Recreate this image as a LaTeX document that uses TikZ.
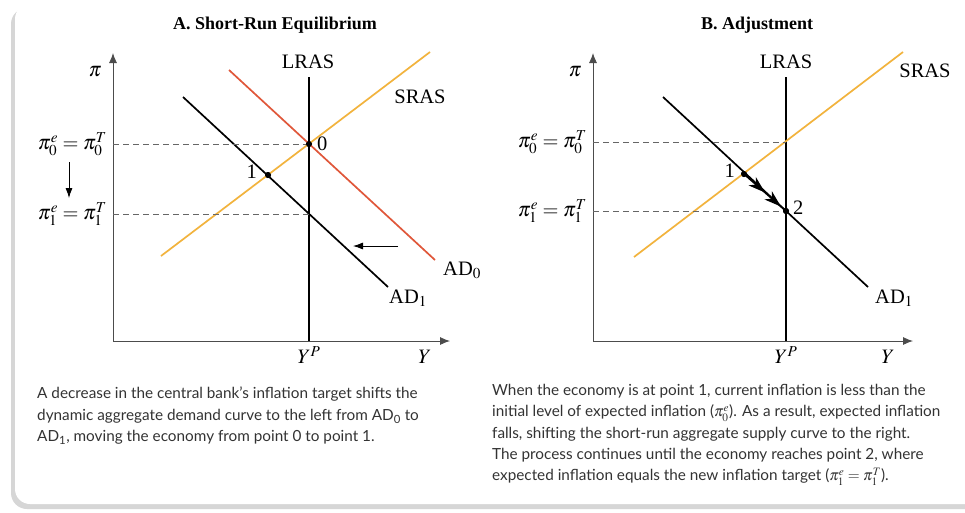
\documentclass[tikz,border=0pt]{standalone}
\usepackage{mathptmx}
\usepackage{fontspec}
\setmainfont{Liberation Serif}
\newfontfamily\capfont{Lato}
\usetikzlibrary{positioning, arrows.meta, decorations.markings}

\definecolor{srascol}{HTML}{F2B33D}
\definecolor{adzerocol}{HTML}{E0573A}
\definecolor{captext}{HTML}{333333}

\tikzset{
  axis/.style={draw=black!70, line width=0.9pt, -{Latex[length=10pt,width=8pt]}},
  lras/.style={line width=2.6pt},
  curve/.style={line width=1.7pt},
  guide/.style={draw=black!60, dash pattern=on 6pt off 4pt, line width=0.8pt},
  dot/.style={circle, fill=black, inner sep=0pt, minimum size=6pt},
  lbl/.style={font=\fontsize{20.5}{20.5}\selectfont, inner sep=1pt},
  paneltitle/.style={font=\bfseries\fontsize{18}{18}\selectfont},
  caption/.style={font=\capfont\fontsize{15.3}{21.3}\selectfont, text=captext,
    align=left, anchor=north west, inner sep=0pt},
  moveon/.style={decoration={markings,
    mark=at position 0.5 with {\arrow{Stealth[length=17pt,width=11pt,inset=5pt]}},
    mark=at position 0.88 with {\arrow{Stealth[length=17pt,width=11pt,inset=5pt]}}},
    postaction={decorate}}
}

\begin{document}
\begin{tikzpicture}[x=1pt,y=-1pt,>={Latex[length=10pt,width=7pt]}]
  \useasboundingbox (0,0) rectangle (965,512);
  \clip (0,0) rectangle (965,512);
  \fill[white] (0,0) rectangle (965,512);
  % card with shadow
  \fill[black!16, rounded corners=16pt] (11,8) rectangle (990,509);
  \fill[white, rounded corners=15pt] (15,4) rectangle (990,504);

  % ---------- A. Short-Run Equilibrium ----------
  \node[paneltitle] (titleA) at (275,25) {A. Short-Run Equilibrium};
  \coordinate (oA) at (113,341);
  \coordinate (yA) at (113,53);
  \coordinate (xA) at (450,341);
  \draw[axis] (oA) -- (yA);
  \draw[axis] (oA) -- (xA);
  \node[lbl] (piA) at (95,72) {$\pi$};
  \node[lbl] (YA) at (425,357) {$Y$};
  \node[lbl] (YPA) at (309,355) {$Y^P$};

  \node[dot] (zeroA) at (309,144) {};
  \node[dot] (oneA) at (268,175) {};
  \coordinate (y1A) at (309,214);

  \coordinate (lrasTopA) at (309,77);
  \draw[lras] (lrasTopA) -- (oA -| lrasTopA);
  \node[lbl] (lrasA) at (308,62) {LRAS};

  \coordinate (srasLoA) at (161,256);
  \coordinate (srasHiA) at (430,52);
  \draw[curve, srascol] (srasLoA) -- (srasHiA);
  \node[lbl] (srasA) at (420,97) {SRAS};

  \coordinate (adzTopA) at (229,70);
  \coordinate (adzBotA) at (435,260);
  \draw[curve, adzerocol] (adzTopA) -- (adzBotA);
  \node[lbl, anchor=west] (adzA) at (442,270) {AD$_0$};

  \coordinate (adoTopA) at (183,97);
  \coordinate (adoBotA) at (388,287);
  \draw[curve] (adoTopA) -- (adoBotA);
  \node[lbl, anchor=west] (adoA) at (388,298) {AD$_1$};

  \draw[guide] (oA |- zeroA) -- (zeroA);
  \draw[guide] (oA |- y1A) -- (y1A);
  \node[dot] at (zeroA) {};
  \node[dot] at (oneA) {};
  \node[lbl, anchor=west] (zeroLblA) at (316,144) {0};
  \node[lbl, anchor=east] (oneLblA) at (258,172) {1};

  \node[lbl, anchor=east] (eq0A) at (108,144) {$\pi^e_0=\pi^T_0$};
  \node[lbl, anchor=east] (eq1A) at (108,214) {$\pi^e_1=\pi^T_1$};
  \draw[->, line width=0.8pt] (eq0A.south -| 69,0) ++(0,5) -- (69,198);
  \coordinate (shiftFrom) at (398,246);
  \coordinate (shiftTo) at (353,246);
  \draw[->, line width=0.8pt] (shiftFrom) -- (shiftTo);

  \node[caption] (capA) at (37,387) {A decrease in the central bank’s inflation target shifts the\\
    dynamic aggregate demand curve to the left from AD\textsubscript{0} to\\
    AD\textsubscript{1}, moving the economy from point 0 to point 1.};

  % ---------- B. Adjustment ----------
  \node[paneltitle] (titleB) at (757,25) {B. Adjustment};
  \coordinate (oB) at (593,341);
  \coordinate (yB) at (593,53);
  \coordinate (xB) at (913,341);
  \draw[axis] (oB) -- (yB);
  \draw[axis] (oB) -- (xB);
  \node[lbl] (piB) at (575,72) {$\pi$};
  \node[lbl] (YB) at (888,357) {$Y$};
  \node[lbl] (YPB) at (786,355) {$Y^P$};

  \coordinate (y0B) at (786,142);
  \node[dot] (oneB) at (744,174) {};
  \node[dot] (twoB) at (786,211) {};

  \coordinate (lrasTopB) at (786,77);
  \draw[lras, line width=2pt] (lrasTopB) -- (oB -| lrasTopB);
  \node[lbl] (lrasB) at (786,62) {LRAS};

  \coordinate (srasLoB) at (634,257);
  \coordinate (srasHiB) at (903,52);
  \draw[curve, srascol] (srasLoB) -- (srasHiB);
  \node[lbl] (srasB) at (925,71) {SRAS};

  \coordinate (adoTopB) at (663,97);
  \coordinate (adoBotB) at (868,287);
  \draw[curve] (adoTopB) -- (adoBotB);
  \draw[curve, moveon] (oneB.center) -- (twoB.center);
  \node[lbl, anchor=west] (adoB) at (874,298) {AD$_1$};

  \draw[guide] (oB |- y0B) -- (y0B);
  \draw[guide] (oB |- twoB) -- (twoB);
  \node[dot] at (oneB) {};
  \node[dot] at (twoB) {};
  \node[lbl, anchor=east] (oneLblB) at (736,171) {1};
  \node[lbl, anchor=west] (twoLblB) at (792,208) {2};

  \node[lbl, anchor=east] (eq0B) at (588,142) {$\pi^e_0=\pi^T_0$};
  \node[lbl, anchor=east] (eq1B) at (588,211) {$\pi^e_1=\pi^T_1$};

  \node[caption] (capB) at (492,384) {When the economy is at point 1, current inflation is less than the\\
    initial level of expected inflation ($\pi^e_0$). As a result, expected inflation\\
    falls, shifting the short-run aggregate supply curve to the right.\\
    The process continues until the economy reaches point 2, where\\
    expected inflation equals the new inflation target ($\pi^e_1=\pi^T_1$).};
\end{tikzpicture}
\end{document}
